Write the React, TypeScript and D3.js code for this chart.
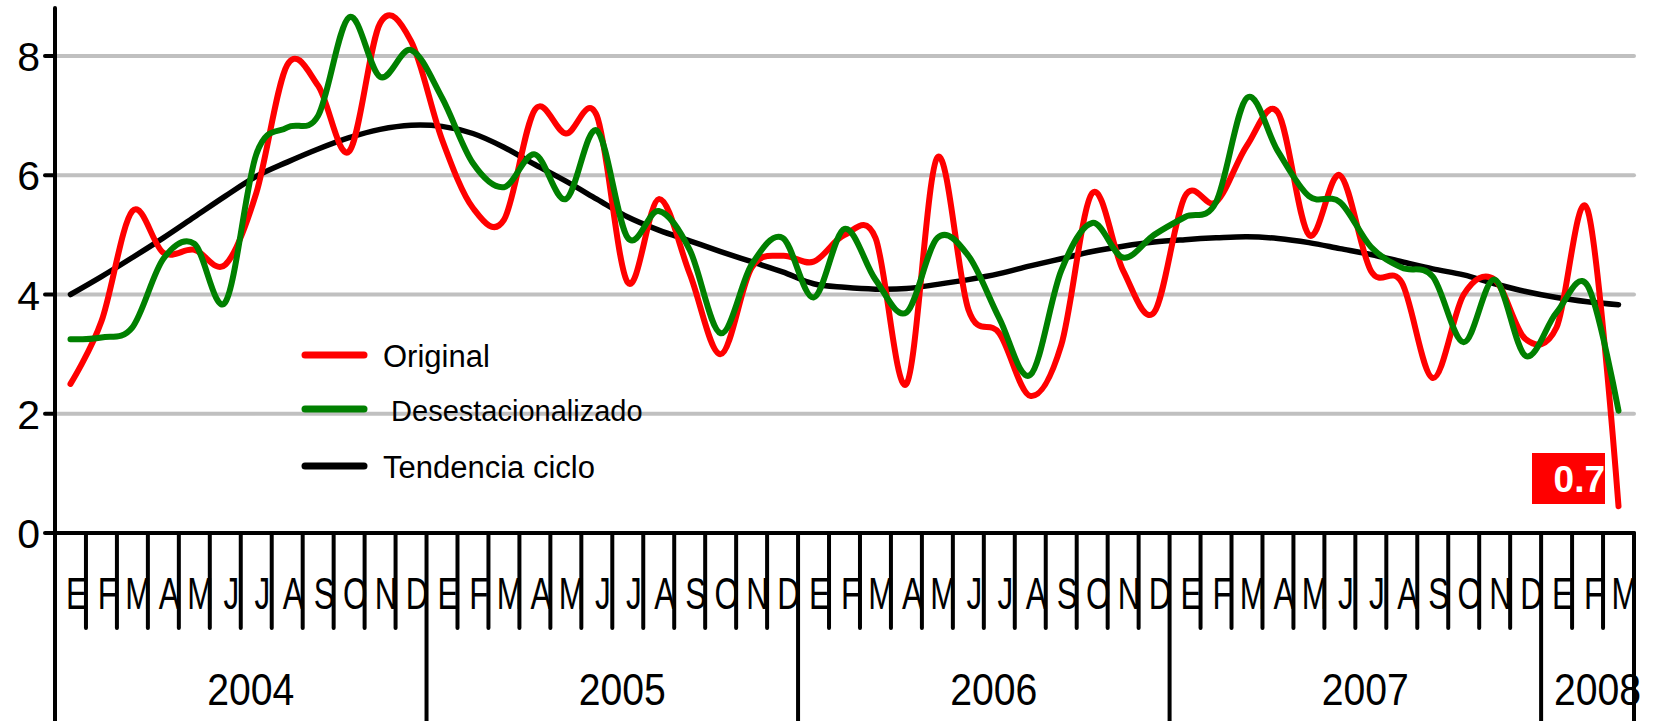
import React from "react";
import * as d3 from "d3";

const monthLetters = ["E", "F", "M", "A", "M", "J", "J", "A", "S", "O", "N", "D"];
const years = ["2004", "2005", "2006", "2007", "2008"];
const monthsPerYear = [12, 12, 12, 12, 3];
const yTicks = [0, 2, 4, 6, 8];
const gridValues = [2, 4, 6, 8];

const original = [
  2.5, 3.55, 5.4, 4.7, 4.75, 4.5, 5.7, 7.85, 7.5, 6.4, 8.55, 8.25,
  6.6, 5.45, 5.25, 7.1, 6.7, 7.0, 4.2, 5.6, 4.35, 3.0, 4.45, 4.65,
  4.55, 5.0, 4.95, 2.5, 6.3, 3.75, 3.35, 2.3, 3.15, 5.7, 4.4, 3.7,
  5.65, 5.55, 6.5, 7.05, 5.0, 6.0, 4.4, 4.2, 2.6, 4.0, 4.25, 3.25,
  3.45, 5.42, 0.45,
];
const seasonallyAdjusted = [
  3.25, 3.28, 3.45, 4.6, 4.85, 3.87, 6.35, 6.8, 7.0, 8.65, 7.65, 8.1,
  7.3, 6.2, 5.8, 6.35, 5.6, 6.75, 4.95, 5.4, 4.75, 3.35, 4.5, 4.95,
  3.95, 5.1, 4.25, 3.7, 4.95, 4.65, 3.6, 2.65, 4.4, 5.2, 4.62, 5.0,
  5.3, 5.55, 7.3, 6.4, 5.65, 5.55, 4.8, 4.45, 4.3, 3.2, 4.25, 2.97,
  3.7, 4.15, 2.05,
];
const trendCycle = [
  4.0, 4.3, 4.62, 4.95, 5.3, 5.65, 5.98, 6.22, 6.44, 6.63, 6.77, 6.84,
  6.82, 6.7, 6.47, 6.18, 5.9, 5.6, 5.3, 5.08, 4.9, 4.72, 4.55, 4.38,
  4.18, 4.12, 4.09, 4.1, 4.17, 4.25, 4.35, 4.48, 4.6, 4.72, 4.81, 4.88,
  4.92, 4.95, 4.97, 4.94, 4.87, 4.77, 4.67, 4.55, 4.43, 4.33, 4.18, 4.05,
  3.95, 3.88, 3.83,
];
const legendItems = [
  { label: "Original", color: "#FF0000" },
  { label: " Desestacionalizado", color: "#008000" },
  { label: "Tendencia ciclo", color: "#000000" },
];
const lastLabel = "0.7";

const FONT = "'Liberation Sans', Arial, Helvetica, sans-serif";

export default function App() {
  const W = 1658;
  const H = 721;
  const nMonths = original.length;
  const x = d3.scaleLinear().domain([0, nMonths]).range([55, 1634]);
  const y = d3.scaleLinear().domain([0, 8]).range([533, 56]);

  const line = d3
    .line<number>()
    .x((_, i) => x(i + 0.5))
    .y((d) => y(d))
    .curve(d3.curveCatmullRom.alpha(0));

  const series = [
    { data: trendCycle, color: "#000000", w: 5.5 },
    { data: original, color: "#FF0000", w: 6 },
    { data: seasonallyAdjusted, color: "#008000", w: 6 },
  ];

  const yearStarts: number[] = [];
  let acc = 0;
  monthsPerYear.forEach((m) => {
    yearStarts.push(acc);
    acc += m;
  });

  const monthLabels: { i: number; t: string }[] = [];
  monthsPerYear.forEach((m, yi) => {
    for (let k = 0; k < m; k++) monthLabels.push({ i: yearStarts[yi] + k, t: monthLetters[k] });
  });

  const xEnd = x(nMonths);
  const axisY = y(0);

  return (
    <svg
      width={W}
      height={H}
      style={{ position: "absolute", left: 0, top: 0, background: "#fff" }}
      fontFamily={FONT}
    >
      {gridValues.map((v) => (
        <line key={v} x1={x(0)} x2={xEnd} y1={y(v)} y2={y(v)} stroke="#C0C0C0" strokeWidth={4} strokeLinecap="round" />
      ))}

      {series.map((s, k) => (
        <path key={k} d={line(s.data) || ""} fill="none" stroke={s.color} strokeWidth={s.w} strokeLinecap="round" strokeLinejoin="round" />
      ))}

      <rect x={1532} y={453} width={73} height={51} fill="#FF0000" />
      <text x={1605} y={492} textAnchor="end" fill="#fff" fontWeight="bold" fontSize={37}>
        {lastLabel}
      </text>

      <line x1={x(0)} x2={x(0)} y1={8} y2={H} stroke="#000" strokeWidth={4} strokeLinecap="round" />
      {yTicks.map((v) => (
        <g key={v}>
          <line x1={45} x2={x(0)} y1={y(v)} y2={y(v)} stroke="#000" strokeWidth={4} strokeLinecap="round" />
          <text x={40} y={y(v) + 15} textAnchor="end" fontSize={41} fill="#000">
            {v}
          </text>
        </g>
      ))}

      <line x1={x(0)} x2={xEnd} y1={axisY} y2={axisY} stroke="#000" strokeWidth={4} strokeLinecap="round" />
      {d3.range(1, nMonths).map((i) => {
        const isYear = yearStarts.includes(i);
        return (
          <line key={i} x1={x(i)} x2={x(i)} y1={axisY} y2={isYear ? H : 628} stroke="#000" strokeWidth={4} strokeLinecap="round" />
        );
      })}
      <line x1={xEnd} x2={xEnd} y1={axisY} y2={H} stroke="#000" strokeWidth={4} strokeLinecap="round" />

      {monthLabels.map((m) => (
        <text
          key={m.i}
          transform={`translate(${x(m.i + 0.5) + 6},609) scale(0.7,1)`}
          textAnchor="middle"
          fontSize={45}
          fill="#000"
        >
          {m.t}
        </text>
      ))}
      {years.map((yr, yi) => {
        const s = yearStarts[yi];
        const e = s + monthsPerYear[yi];
        return (
          <text
            key={yr}
            transform={`translate(${(x(s) + x(e)) / 2 + 10},705) scale(0.87,1)`}
            textAnchor="middle"
            fontSize={45}
            fill="#000"
          >
            {yr}
          </text>
        );
      })}

      {legendItems.map((it, k) => {
        const ly = [355, 409, 466][k];
        return (
          <g key={it.label}>
            <line x1={305} x2={364} y1={ly} y2={ly} stroke={it.color} strokeWidth={7} strokeLinecap="round" />
            <text x={383} y={ly + 12} fontSize={k === 1 ? 29 : 31} fill="#000" style={{ whiteSpace: "pre" }}>
              {it.label}
            </text>
          </g>
        );
      })}
    </svg>
  );
}
